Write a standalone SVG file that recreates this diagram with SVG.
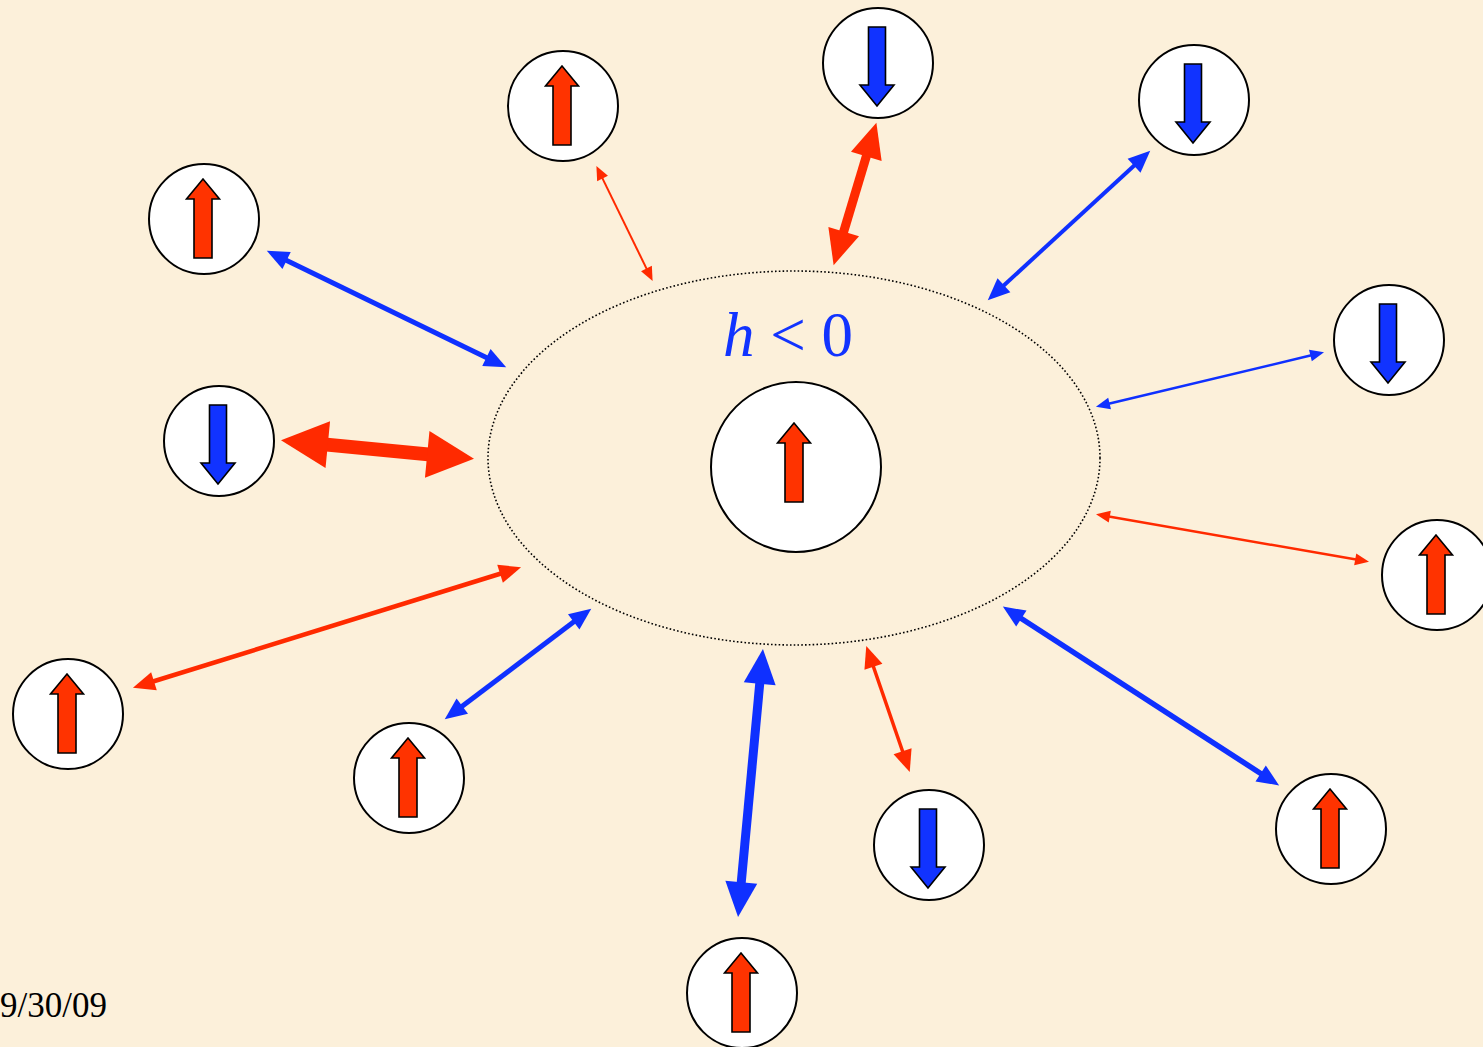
<svg xmlns="http://www.w3.org/2000/svg" xmlns:xlink="http://www.w3.org/1999/xlink" width="1483" height="1047" viewBox="0 0 1483 1047">
<style>
.bg{fill:#FCF0DA}
.node{fill:#FFFFFF;stroke:#000;stroke-width:2}
.up{fill:#FF3300;stroke:#000;stroke-width:1.6;stroke-linejoin:miter}
.dn{fill:#1133FF;stroke:#000;stroke-width:1.6;stroke-linejoin:miter}
.r{stroke:#FF2A00;fill:none}
.b{stroke:#0F30FF;fill:none}
.ring{fill:none;stroke:#000;stroke-width:1.6;stroke-dasharray:1.6 2.2}
.lbl{font-family:"Liberation Serif","Times New Roman",serif;fill:#1133FF;font-size:63px}
.date{font-family:"Liberation Serif","Times New Roman",serif;fill:#000;font-size:35px}
</style>
<defs>
<path id="upArrow" class="up" d="M0,-40 L16.5,-20 L9,-20 L9,39 L-9,39 L-9,-20 L-16.5,-20 Z"/>
<path id="dnArrow" class="dn" d="M0,43 L17,22 L8.5,22 L8.5,-36 L-8.5,-36 L-8.5,22 L-17,22 Z"/>
<marker id="rs" markerUnits="userSpaceOnUse" orient="auto-start-reverse" refX="1" refY="0" markerWidth="14" markerHeight="12" overflow="visible"><path d="M0,-6 L14,0 L0,6 Z" fill="#FF2A00"/></marker>
<marker id="rm" markerUnits="userSpaceOnUse" orient="auto-start-reverse" refX="1" refY="0" markerWidth="22" markerHeight="19" overflow="visible"><path d="M0,-9.5 L22,0 L0,9.5 Z" fill="#FF2A00"/></marker>
<marker id="rl" markerUnits="userSpaceOnUse" orient="auto-start-reverse" refX="1" refY="0" markerWidth="35" markerHeight="32" overflow="visible"><path d="M0,-16 L35,0 L0,16 Z" fill="#FF2A00"/></marker>
<marker id="rx" markerUnits="userSpaceOnUse" orient="auto-start-reverse" refX="1" refY="0" markerWidth="47" markerHeight="47" overflow="visible"><path d="M0,-23.5 L47,0 L0,23.5 Z" fill="#FF2A00"/></marker>
<marker id="bs" markerUnits="userSpaceOnUse" orient="auto-start-reverse" refX="1" refY="0" markerWidth="14" markerHeight="12" overflow="visible"><path d="M0,-6 L14,0 L0,6 Z" fill="#0F30FF"/></marker>
<marker id="bm" markerUnits="userSpaceOnUse" orient="auto-start-reverse" refX="1" refY="0" markerWidth="22" markerHeight="19" overflow="visible"><path d="M0,-9.5 L22,0 L0,9.5 Z" fill="#0F30FF"/></marker>
<marker id="bl" markerUnits="userSpaceOnUse" orient="auto-start-reverse" refX="1" refY="0" markerWidth="35" markerHeight="32" overflow="visible"><path d="M0,-16 L35,0 L0,16 Z" fill="#0F30FF"/></marker>
</defs>
<rect class="bg" x="0" y="0" width="1483" height="1047"/>
<ellipse class="ring" cx="794" cy="458" rx="306" ry="187"/>
<g id="connectors">
<line class="r" stroke-width="2" x1="602.1" y1="177.6" x2="646.9" y2="269.4" marker-start="url(#rs)" marker-end="url(#rs)"/>
<line class="r" stroke-width="9" x1="866.6" y1="155.4" x2="843.4" y2="232.6" marker-start="url(#rl)" marker-end="url(#rl)"/>
<line class="b" stroke-width="4" x1="1134.8" y1="165.0" x2="1003.2" y2="286.0" marker-start="url(#bm)" marker-end="url(#bm)"/>
<line class="b" stroke-width="5" x1="285.7" y1="260.0" x2="487.3" y2="358.0" marker-start="url(#bm)" marker-end="url(#bm)"/>
<line class="r" stroke-width="14" x1="326.8" y1="444.6" x2="428.2" y2="454.4" marker-start="url(#rx)" marker-end="url(#rx)"/>
<line class="b" stroke-width="2.5" x1="1108.6" y1="403.7" x2="1311.4" y2="355.3" marker-start="url(#bs)" marker-end="url(#bs)"/>
<line class="r" stroke-width="2.5" x1="1108.8" y1="516.4" x2="1356.2" y2="559.6" marker-start="url(#rs)" marker-end="url(#rs)"/>
<line class="r" stroke-width="4.5" x1="501" y1="573.5" x2="153" y2="681.5" marker-start="url(#rm)" marker-end="url(#rm)"/>
<line class="b" stroke-width="5" x1="574.5" y1="621.3" x2="461.5" y2="706.7" marker-start="url(#bm)" marker-end="url(#bm)"/>
<line class="b" stroke-width="9" x1="759.8" y1="682.8" x2="741.2" y2="883.2" marker-start="url(#bl)" marker-end="url(#bl)"/>
<line class="r" stroke-width="3.5" x1="873.1" y1="665.8" x2="902.9" y2="752.2" marker-start="url(#rm)" marker-end="url(#rm)"/>
<line class="b" stroke-width="5.5" x1="1020.5" y1="618.0" x2="1261.5" y2="774.0" marker-start="url(#bm)" marker-end="url(#bm)"/>
</g>
<g id="center"><circle class="node" cx="796" cy="467" r="85"/><use xlink:href="#upArrow" x="794" y="463"/></g>
<g id="n1"><circle class="node" cx="563" cy="106" r="55"/><use xlink:href="#upArrow" x="562" y="106"/></g>
<g id="n2"><circle class="node" cx="878" cy="63" r="55"/><use xlink:href="#dnArrow" x="877" y="63"/></g>
<g id="n3"><circle class="node" cx="1194" cy="100" r="55"/><use xlink:href="#dnArrow" x="1193" y="100"/></g>
<g id="n4"><circle class="node" cx="204" cy="219" r="55"/><use xlink:href="#upArrow" x="203" y="219"/></g>
<g id="n5"><circle class="node" cx="1389" cy="340" r="55"/><use xlink:href="#dnArrow" x="1388" y="340"/></g>
<g id="n6"><circle class="node" cx="219" cy="441" r="55"/><use xlink:href="#dnArrow" x="218" y="441"/></g>
<g id="n7"><circle class="node" cx="1437" cy="575" r="55"/><use xlink:href="#upArrow" x="1436" y="575"/></g>
<g id="n8"><circle class="node" cx="68" cy="714" r="55"/><use xlink:href="#upArrow" x="67" y="714"/></g>
<g id="n9"><circle class="node" cx="409" cy="778" r="55"/><use xlink:href="#upArrow" x="408" y="778"/></g>
<g id="n10"><circle class="node" cx="1331" cy="829" r="55"/><use xlink:href="#upArrow" x="1330" y="829"/></g>
<g id="n11"><circle class="node" cx="929" cy="845" r="55"/><use xlink:href="#dnArrow" x="928" y="845"/></g>
<g id="n12"><circle class="node" cx="742" cy="993" r="55"/><use xlink:href="#upArrow" x="741" y="993"/></g>
<text class="lbl" x="723" y="356"><tspan font-style="italic">h</tspan> &lt; 0</text>
<text class="date" x="0" y="1017">9/30/09</text>
</svg>
